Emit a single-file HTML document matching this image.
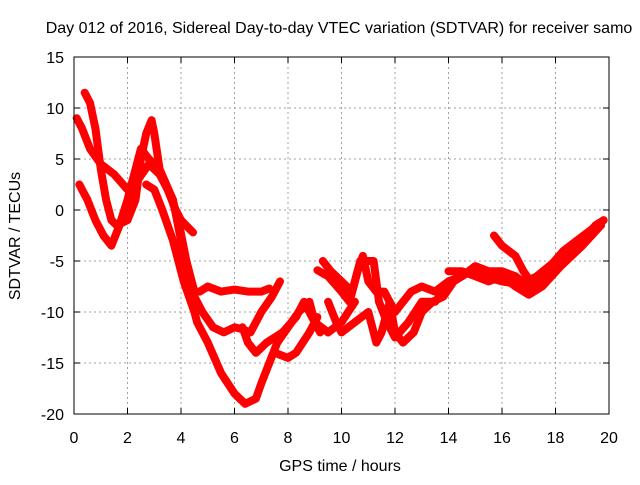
<!DOCTYPE html>
<html><head><meta charset="utf-8"><style>
body{margin:0;background:#fff}
svg text{font-family:"Liberation Sans",sans-serif;font-size:16px;fill:#000}
</style></head><body>
<svg id="chart" width="640" height="480" xmlns="http://www.w3.org/2000/svg">
<text x="339" y="33" text-anchor="middle">Day 012 of 2016, Sidereal Day-to-day VTEC variation (SDTVAR) for receiver samo</text>
<text x="340" y="471" text-anchor="middle">GPS time / hours</text>
<text transform="translate(20,236) rotate(-90)" text-anchor="middle">SDTVAR / TECUs</text>
<g id="grid"></g>
<g id="series"></g>
<rect x="74" y="57" width="535" height="357" fill="none" stroke="#000" stroke-width="1"/>
<g id="ticks"></g>
</svg>
<script>
const xTicks=[0,2,4,6,8,10,12,14,16,18,20];
const yTicks=[15,10,5,0,-5,-10,-15,-20];
const traceA_x=[0.4,0.6,0.8,1.0,1.2,1.4,1.6,2.0,2.3,2.5,2.7,2.9,3.0,3.2,3.5,3.8,4.0,4.3,4.45];
const traceA_y=[11.5,10.5,8,4,1,-1,-1.5,-1,1,5,7.5,8.8,7.5,4,2,0,-1,-1.8,-2.2];
const traceB_x=[0.1,0.3,0.6,1.0,1.5,2.0,2.4,2.8,3.2,3.6,3.9,4.2,4.5,4.7,5.0,5.5,6.0,6.5,7.0,7.3];
const traceB_y=[9,8,6,4.5,3.5,2,3,4.5,3.5,1.5,-1,-5,-8,-8,-7.5,-8,-7.8,-8,-8,-7.7];
const traceC_x=[0.2,0.5,0.8,1.1,1.4,1.7,2.0,2.3,2.5,2.8,3.2,3.7,4.0,4.3,4.5,4.8,5.2,5.6,6.0,6.3,6.6,7.0,7.4,7.7];
const traceC_y=[2.5,1,-1,-2.5,-3.5,-1.5,1,4,6,5,4,1,-3,-7,-8.5,-10,-11.5,-12,-11.5,-11.7,-12,-10,-8.5,-7];
const traceD_x=[2.7,3.0,3.3,3.7,4.1,4.5,4.6,5.0,5.5,6.0,6.4,6.8,7.0,7.3,7.6,8.0,8.4,8.8,9.0,9.5,10,10.5];
const traceD_y=[2.5,2.0,0,-3,-7,-10,-11,-13,-16,-18,-19,-18.5,-17,-15,-13,-11.5,-10,-9,-11,-12,-11,-9];
const traceE_x=[6.3,6.5,6.8,7.2,7.8,8.3,8.6,9.2];
const traceE_y=[-11.5,-13,-14,-13,-12,-10.5,-9,-12];
const traceF_x=[7.5,8,8.3,8.8,9.1];
const traceF_y=[-14,-14.5,-14,-12,-10.5];
const traceG_x=[9.1,9.5,10,10.3,10.6,10.8,11,11.3,11.6,12,12.3,12.6,13,13.5,14,14.5,15,15.5,16,16.5,17,17.3,17.8,18.3,18.8,19.3,19.8];
const traceG_y=[-5.9,-6.5,-8,-9,-6,-4.5,-7,-8,-8,-10,-9,-8,-7.5,-8,-7,-6.5,-5.5,-6,-6,-6.5,-7.5,-6.5,-5.5,-4,-3,-2,-1];
const traceH_x=[9.5,9.8,10,10.5,11,11.3,11.5,11.8,12,12.3,12.7,13,13.4,13.8,14.2,14.8,15.3,16,16.7,17.3,18,18.5,19,19.7];
const traceH_y=[-9,-11,-12,-11,-10,-13,-12,-9,-12,-13,-12,-10,-9,-8.5,-7,-6,-6.5,-7,-7.3,-6.5,-5,-4,-3,-1.5];
const traceI_x=[15.7,16,16.5,16.8,17.2,17.5,18,18.5,19,19.5,19.8];
const traceI_y=[-2.5,-3.5,-4.5,-6,-7.5,-7,-5.5,-4.5,-3,-1.5,-1];
const traceJ_x=[14,14.5,15,15.5,16,16.5,17,17.5,18.2,19,19.7];
const traceJ_y=[-6,-6,-6.5,-7,-6.5,-7.5,-8.3,-7.5,-5.5,-3.5,-1.5];
const traceK_x=[9.3,9.6,10,10.4,10.7,11.2,11.4,11.7,12,12.5,13,13.5,14];
const traceK_y=[-5,-6,-7,-8,-5,-5,-9,-11,-12.5,-11,-9,-9,-7.5];
const traces=[[traceA_x,traceA_y],[traceB_x,traceB_y],[traceC_x,traceC_y],[traceD_x,traceD_y],[traceE_x,traceE_y],[traceF_x,traceF_y],[traceG_x,traceG_y],[traceH_x,traceH_y],[traceI_x,traceI_y],[traceJ_x,traceJ_y],[traceK_x,traceK_y]];

const NS="http://www.w3.org/2000/svg";
const X0=74,X1=609,Y0=414,Y1=57;
function sx(h){return X0+(h-0)/(20-0)*(X1-X0);}
function sy(v){return Y0-(v+20)/(35)*(Y0-Y1);}
const grid=document.getElementById('grid'),ticks=document.getElementById('ticks'),series=document.getElementById('series');
function mk(tag,attrs,parent){const e=document.createElementNS(NS,tag);for(const k in attrs)e.setAttribute(k,attrs[k]);parent.appendChild(e);return e;}
xTicks.forEach(t=>{
  const x=sx(t);
  if(t>0&&t<20){const g=mk('line',{x1:x,y1:Y0,x2:x,y2:Y1,stroke:'#a0a0a0','stroke-dasharray':'2,3'},grid);
  
  }
  mk('line',{x1:x,y1:Y0,x2:x,y2:Y0-6,stroke:'#000'},ticks);
  mk('line',{x1:x,y1:Y1,x2:x,y2:Y1+6,stroke:'#000'},ticks);
  const l=mk('text',{x:x,y:Y0+29,'text-anchor':'middle'},ticks);l.textContent=t;
  
  
});
yTicks.forEach(t=>{
  const y=sy(t);
  if(t>-20&&t<15){const g=mk('line',{x1:X0,y1:y,x2:X1,y2:y,stroke:'#a0a0a0','stroke-dasharray':'2,3'},grid);
  
  }
  mk('line',{x1:X0,y1:y,x2:X0+6,y2:y,stroke:'#000'},ticks);
  mk('line',{x1:X1,y1:y,x2:X1-6,y2:y,stroke:'#000'},ticks);
  const l=mk('text',{x:X0-10,y:y+6,'text-anchor':'end'},ticks);l.textContent=t;
  
  
});
traces.forEach((tr,i)=>{
  const pts=tr[0].map((h,j)=>sx(h).toFixed(1)+','+sy(tr[1][j]).toFixed(1)).join(' ');
  const p=mk('polyline',{points:pts,fill:'none',stroke:'#ff0000','stroke-width':8,'stroke-linejoin':'round','stroke-linecap':'round'},series);
  
  
});
</script>
</body></html>
